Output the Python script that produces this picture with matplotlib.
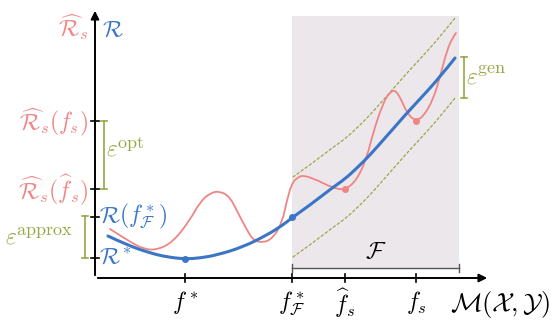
import matplotlib
matplotlib.use('Agg')
import numpy as np
from matplotlib import pyplot as plt
from matplotlib.path import Path
from matplotlib.patches import PathPatch

plt.rcParams['mathtext.fontset'] = 'cm'

# colours
red = '#f08585'
blue = '#3b76c6'
olive = '#9aa646'
shade = '#ece7eb'

# curves (x, y in picture pixels, y grows downward)
risk_x = [108, 127, 150, 167, 185, 200, 217, 243, 267, 283, 293, 310, 332, 345, 358,
          370, 385, 400, 407, 420, 440, 455]
risk_y = [236, 245, 253, 257, 259, 258, 255, 247, 235, 225, 217, 205, 188, 179, 167,
          155, 138, 121, 113, 99, 77, 58]

emp_x = [110, 127, 143, 157, 173, 190, 200, 210, 220, 230, 238, 247, 253, 263, 273,
         282, 287, 292, 297, 303, 317, 333, 345, 357, 367, 373, 383, 390, 395, 400,
         407, 415, 423, 433, 440, 447, 453, 456]
emp_y = [229, 240, 249, 250, 242, 220, 202, 193, 191, 197, 213, 230, 240, 243, 238,
         223, 200, 183, 178, 175, 180, 188, 190, 180, 157, 133, 103, 92, 90, 97,
         113, 121, 117, 100, 77, 50, 37, 33]

gen_gap = 40

# marked functions on the x axis and their risk levels
x_ticks = [185, 292, 345, 416]
x_labels = [r'$f^*$', r'$f^*_{\mathcal{F}}$', r'$\widehat{f}_s$', r'$f_s$']
blue_dots = [(185, 259), (292, 217)]
red_dots = [(345, 189), (416, 121)]

y_ticks = [121, 189, 217, 258]
y_labels = [r'$\widehat{\mathcal{R}}_s(f_s)$', r'$\widehat{\mathcal{R}}_s(\widehat{f}_s)$',
            r'$\mathcal{R}(f^*_{\mathcal{F}})$', r'$\mathcal{R}^*$']
y_colors = [red, red, blue, blue]

# hypothesis class F
class_left, class_right = 292, 459

axis_x, axis_y = 95, 278
fs_main = 17


def smooth_line(ax, xs, ys, **kw):
    # quadratic B-spline through the listed points, drawn as a matplotlib path
    pts = np.column_stack([xs, ys]).astype(float)
    verts = [pts[0]]
    codes = [Path.MOVETO]
    for i in range(1, len(pts) - 1):
        end = pts[i + 1] if i == len(pts) - 2 else (pts[i] + pts[i + 1]) / 2
        verts += [pts[i], end]
        codes += [Path.CURVE3, Path.CURVE3]
    ax.add_patch(PathPatch(Path(verts, codes), fill=False, capstyle='round', **kw))


fig = plt.figure(figsize=(5.56, 3.2), dpi=100)
ax = fig.add_axes([0, 0, 1, 1])
ax.set_xlim(0, 556)
ax.set_ylim(320, 0)
ax.axis('off')

ax.fill_between([class_left, class_right], 16, 269, color=shade, lw=0, zorder=0)

# F bracket
ax.plot([class_left, class_right], [268, 268], color='#555555', lw=1)
for xx in (class_left, class_right):
    ax.plot([xx, xx], [264, 272], color='#555555', lw=1)
ax.text((class_left + class_right) / 2, 251, r'$\mathcal{F}$', fontsize=fs_main, ha='center', va='center')

# axes with arrows
ax.annotate('', xy=(490, axis_y), xytext=(axis_x, axis_y),
            arrowprops=dict(arrowstyle='-|>', color='black', lw=1.4, mutation_scale=12))
ax.annotate('', xy=(axis_x, 8), xytext=(axis_x, axis_y),
            arrowprops=dict(arrowstyle='-|>', color='black', lw=1.4, mutation_scale=12))

for xt, lab in zip(x_ticks, x_labels):
    ax.plot([xt, xt], [axis_y - 4, axis_y + 4], color='black', lw=1.2)
    ax.text(xt, 303, lab, fontsize=fs_main, ha='center', va='center')
ax.text(450, 304, r'$\mathcal{M}(\mathcal{X},\mathcal{Y})$', fontsize=19, ha='left', va='center')

for yt, lab, c in zip(y_ticks, y_labels, y_colors):
    ax.plot([axis_x - 4, axis_x + 4], [yt, yt], color='black', lw=1.2)
    if c == red:
        ax.text(88, yt + 1, lab, fontsize=fs_main, ha='right', va='center', color=c)
    else:
        ax.text(99, yt - 1, lab, fontsize=fs_main, ha='left', va='center', color=c)

ax.text(88, 27, r'$\widehat{\mathcal{R}}_s$', fontsize=fs_main, ha='right', va='center', color=red)
ax.text(102, 29, r'$\mathcal{R}$', fontsize=fs_main, ha='left', va='center', color=blue)

# generalisation band around the true risk inside F
band_x = np.array([x for x in risk_x if x >= class_left])
band_y = np.array([y for x, y in zip(risk_x, risk_y) if x >= class_left])
smooth_line(ax, band_x, band_y - gen_gap, color=olive, lw=0.9, ls=(0, (2, 2)))
smooth_line(ax, band_x, band_y + gen_gap, color=olive, lw=0.9, ls=(0, (2, 2)))

smooth_line(ax, emp_x, emp_y, color=red, lw=1.3, zorder=3)
smooth_line(ax, risk_x, risk_y, color=blue, lw=2.2, zorder=4)
for px, py in blue_dots:
    ax.plot(px, py, 'o', color=blue, ms=4, zorder=5)
for px, py in red_dots:
    ax.plot(px, py, 'o', color=red, ms=4, zorder=5)


def bracket(x, y0, y1):
    ax.plot([x, x], [y0, y1], color=olive, lw=1.2)
    ax.plot([x - 3, x + 3], [y0, y0], color=olive, lw=1.2)
    ax.plot([x - 3, x + 3], [y1, y1], color=olive, lw=1.2)


def eps_label(x, y_eps, y_sup, sup):
    ax.text(x, y_eps, r'$\varepsilon$', fontsize=17, ha='left', va='baseline', color=olive)
    ax.text(x + 11, y_sup, r'$\mathrm{' + sup + '}$', fontsize=13, ha='left', va='baseline',
            color=olive)


bracket(104, 121, 189)
eps_label(106, 155, 148, 'opt')
bracket(85, 216, 258)
eps_label(5, 244, 235, 'approx')
bracket(464, 57, 98)
eps_label(466, 84, 73, 'gen')

fig.savefig('out.png', dpi=100)
